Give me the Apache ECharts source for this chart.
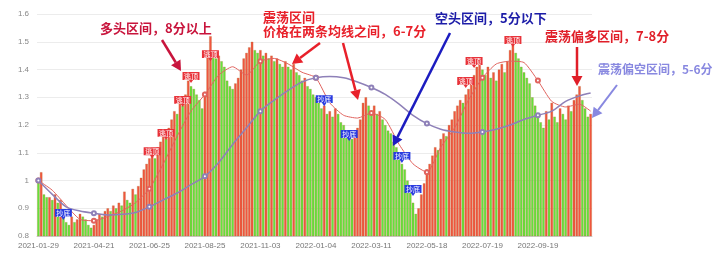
<!DOCTYPE html>
<html><head><meta charset="utf-8">
<script src="https://cdn.jsdelivr.net/npm/echarts@6/dist/echarts.min.js"></script>
<style>html,body{margin:0;padding:0;background:#fff}#c{width:720px;height:263px}</style>
</head><body><div id="c"></div>
<script>
// tick label dates (every 20th category)
const labelDates = ['2021-01-29','2021-04-21','2021-06-25','2021-08-25','2021-11-03','2022-01-04','2022-03-11','2022-05-18','2022-07-19','2022-09-19'];
// bar values (close), 200 periods
const barValues = [
1.00,1.03,0.95,0.94,0.94,0.93,0.95,0.92,0.93,0.88,
0.85,0.84,0.87,0.85,0.86,0.88,0.87,0.86,0.84,0.83,
0.84,0.86,0.88,0.87,0.89,0.90,0.89,0.91,0.90,0.92,
0.91,0.96,0.93,0.92,0.97,0.95,0.98,1.01,1.04,1.06,
1.08,1.10,1.08,1.12,1.14,1.16,1.15,1.19,1.22,1.25,
1.24,1.28,1.27,1.31,1.36,1.34,1.33,1.31,1.29,1.26,
1.32,1.45,1.52,1.46,1.44,1.45,1.43,1.41,1.36,1.34,
1.33,1.35,1.37,1.40,1.44,1.46,1.48,1.50,1.47,1.46,
1.47,1.45,1.46,1.44,1.45,1.43,1.44,1.42,1.41,1.43,
1.41,1.40,1.42,1.39,1.38,1.36,1.37,1.34,1.33,1.31,
1.30,1.28,1.26,1.27,1.24,1.25,1.23,1.26,1.24,1.21,
1.20,1.17,1.16,1.15,1.18,1.19,1.22,1.28,1.30,1.27,
1.25,1.27,1.24,1.25,1.22,1.20,1.18,1.17,1.14,1.12,
1.10,1.06,1.04,1.00,0.96,0.92,0.88,0.90,0.95,0.99,
1.04,1.06,1.09,1.12,1.11,1.15,1.17,1.16,1.20,1.22,
1.25,1.27,1.29,1.28,1.31,1.33,1.36,1.38,1.41,1.42,
1.40,1.38,1.41,1.37,1.39,1.36,1.40,1.42,1.39,1.43,
1.47,1.50,1.46,1.44,1.41,1.39,1.37,1.35,1.30,1.27,
1.24,1.21,1.19,1.25,1.22,1.28,1.23,1.21,1.26,1.24,
1.22,1.27,1.25,1.29,1.31,1.34,1.29,1.26,1.23,1.24];
// moving-average lines read every 5th period (indices 0,5,...,195) plus last (199)
const shortMA = [1.00,0.965,0.91,0.86,0.855,0.87,0.89,0.92,0.97,1.06,1.16,1.25,1.31,1.38,1.41,1.38,1.43,1.44,1.42,1.39,
1.37,1.28,1.235,1.225,1.243,1.22,1.13,1.06,1.03,1.12,1.19,1.29,1.37,1.42,1.43,1.425,1.36,1.285,1.265,1.275];
const shortMALast = 1.25;
const longMA = [1.00,0.95,0.905,0.89,0.882,0.876,0.878,0.885,0.905,0.93,0.955,0.985,1.015,1.065,1.13,1.19,1.25,1.29,1.325,1.355,
1.37,1.375,1.37,1.355,1.335,1.31,1.275,1.235,1.205,1.185,1.175,1.17,1.175,1.185,1.2,1.22,1.235,1.25,1.285,1.305];
const longMALast = 1.315;
// signal markers: [period index, value]
const topSignals = [[41,1.08],[46,1.146],[52,1.265],[55,1.351],[62,1.43],[154,1.333],[157,1.405],[171,1.481]];
const bottomSignals = [[9,0.858],[103,1.268],[112,1.142],[131,1.063],[135,0.944]];
const topText = '逃顶', bottomText = '抄底';

// build categories
function addDays(s, d){const t=new Date(s+'T00:00:00Z');t.setUTCDate(t.getUTCDate()+d);return t.toISOString().slice(0,10);}
function diffDays(a,b){return Math.round((new Date(b)-new Date(a))/86400000);}
const N = barValues.length;
const categories = [];
for(let i=0;i<N;i++){
  const seg=Math.floor(i/20), k=i%20;
  const start=labelDates[seg];
  const span = seg+1<labelDates.length ? diffDays(start,labelDates[seg+1]) : 60;
  categories.push(k===0?start:addDays(start, Math.round(k*span/20)));
}
function expand(arr,last){const out=new Array(N).fill(null);arr.forEach((v,j)=>{out[j*5]=v;});out[N-1]=last;return out;}
const RED='#f2553f', GREEN='#62e63c';
const barData = barValues.map((v,i)=>({value:v,itemStyle:{color:(i>0&&v>=barValues[i-1])?RED:GREEN}}));

const pinPath='path://M0,0 L20,0 L20,10 L12.5,10 L10,14 L7.5,10 L0,10 Z';
function marks(list,color,text){
  return list.map(([i,v])=>({coord:[categories[i],v],symbol:pinPath,symbolSize:[17,11],symbolOffset:[0,'-50%'],
    itemStyle:{color:color},label:{show:true,formatter:text,color:'#fff',fontSize:7,offset:[0,-1.5],fontFamily:'Noto Sans CJK SC'}}));
}

function arrow(x1,y1,x2,y2,color,w){
  const a=Math.atan2(y2-y1,x2-x1), L=10, W=5.5;
  const bx=x2-L*Math.cos(a), by=y2-L*Math.sin(a);
  const px=-Math.sin(a)*W, py=Math.cos(a)*W;
  return [{type:'line',shape:{x1:x1,y1:y1,x2:bx,y2:by},style:{stroke:color,lineWidth:w},z:100},
          {type:'polygon',shape:{points:[[x2,y2],[bx+px,by+py],[bx-px,by-py]]},style:{fill:color},z:100}];
}
function txt(t,x,y,color,size){return {type:'text',x:x,y:y,z:100,style:{text:t,fill:color,font:'bold '+(size||13)+'px "Noto Sans CJK SC"',textAlign:'left',verticalAlign:'middle'}};}

const chart = echarts.init(document.getElementById('c'));
chart.setOption({
  animation:false,
  grid:{left:37,right:128,top:14,bottom:27},
  xAxis:{type:'category',data:categories,boundaryGap:true,
    axisLine:{lineStyle:{color:'#ccc'}},
    axisTick:{interval:19,alignWithLabel:true,lineStyle:{color:'#aaa'},length:4},
    axisLabel:{interval:19,color:'#777',fontSize:8,margin:6,fontFamily:'Liberation Sans'}},
  yAxis:{type:'value',min:0.8,max:1.6,interval:0.1,
    axisLine:{show:false},axisTick:{show:false},
    splitLine:{lineStyle:{color:'#ececec'}},
    axisLabel:{color:'#888',fontSize:8,margin:8,fontFamily:'Liberation Sans'}},
  series:[
    {type:'bar',data:barData,barCategoryGap:'8%',
     itemStyle:{borderColor:'rgba(175,105,45,0.55)',borderWidth:0.5},
     markPoint:{data:marks(topSignals,'#e8333a',topText).concat(marks(bottomSignals,'#2a3be0',bottomText))}},
    {type:'line',data:expand(shortMA,shortMALast),connectNulls:true,smooth:0.2,
     symbol:'emptyCircle',symbolSize:4,lineStyle:{color:'#e0635e',width:1},itemStyle:{color:'#e0635e'}},
    {type:'line',data:expand(longMA,longMALast),connectNulls:true,smooth:0.3,
     symbol:'emptyCircle',symbolSize:4,lineStyle:{color:'#8e80b8',width:1.5},itemStyle:{color:'#8e80b8'}}
  ],
  graphic:[].concat(
    txt('多头区间，8分以上',100,28,'#c8143c'),
    arrow(162,40,181,71,'#c8143c',2.5),
    txt('震荡区间',263,17,'#e8202a'),
    txt('价格在两条均线之间，6-7分',263,31,'#e8202a'),
    arrow(320,43,292,64,'#e8202a',2.5),
    arrow(343,43,358,100,'#e8202a',2.5),
    txt('空头区间，5分以下',435,18,'#1c1ca8'),
    arrow(450,33,393,146,'#1c1cc0',2.5),
    txt('震荡偏多区间，7-8分',545,36,'#e01e28'),
    arrow(577,47,577,86,'#e01e28',2.5),
    txt('震荡偏空区间，5-6分',598,69,'#8888e0',12),
    arrow(617,85,592,118,'#8888e0',2)
  )
});
</script></body></html>
